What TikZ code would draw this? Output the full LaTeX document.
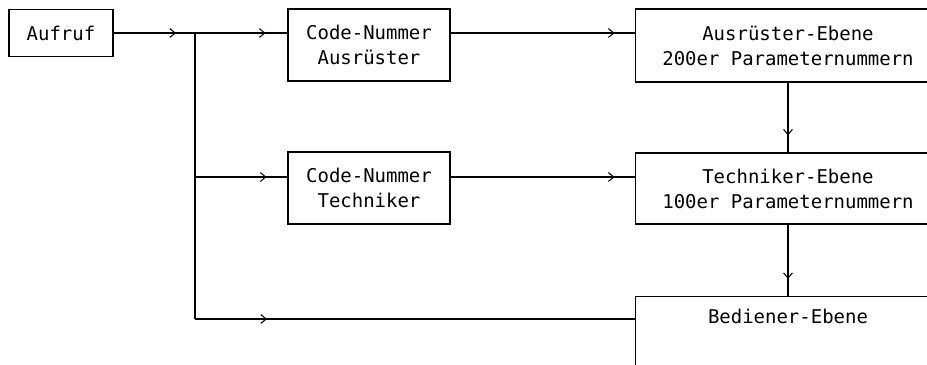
\documentclass[tikz,border=0pt]{standalone}
\usepackage{fontspec}
\setmonofont{DejaVu Sans Mono}
\usetikzlibrary{arrows.meta,decorations.markings}
\begin{document}
\begin{tikzpicture}[x=0.02cm,y=-0.02cm,line width=0.6pt,
  box/.style={draw,inner sep=0pt,align=center,minimum height=1.44cm,
    font=\ttfamily\fontsize{10.8}{14.2}\selectfont},
  midarrow/.style={postaction=decorate,decoration={markings,
    mark=at position #1 with {\arrow{Straight Barb[length=3pt,width=5pt]}}}}]
\useasboundingbox (0,0) rectangle (927,365);
\clip (0,0) rectangle (927,365);
\node[box,minimum width=2.08cm,minimum height=0.94cm] (auf) at (61,33) {Aufruf};
\node[box,minimum width=3.24cm] (cna) at (369,45) {Code-Nummer\\Ausrüster};
\node[box,minimum width=3.24cm] (cnt) at (369,188) {Code-Nummer\\Techniker};
\node[box,minimum width=6.12cm,minimum height=1.46cm] (aeb) at (788,45.5) {Ausrüster-Ebene\\200er Parameternummern};
\node[box,minimum width=6.12cm,minimum height=1.42cm] (teb) at (788,188.5) {Techniker-Ebene\\100er Parameternummern};
\node[box,minimum width=6.12cm,minimum height=1.46cm] (beb) at (788,333) {Bediener-Ebene\\\strut};
\coordinate (j1) at (195,33);
\coordinate (j2) at (195,177);
\coordinate (j3) at (195,319);
\draw[midarrow=-0.38cm] (auf.east) -- (j1);
\draw[midarrow=-0.44cm] (j1) -- (cna.west |- j1);
\draw[midarrow=-0.4cm] (cna.east |- j1) -- (aeb.west |- j1);
\draw (j1) -- (j3);
\draw[midarrow=-0.42cm] (j2) -- (cnt.west |- j2);
\draw[midarrow=-0.4cm] (cnt.east |- j2) -- (teb.west |- j2);
\draw[midarrow=1.44cm] (j3) -- (beb.west |- j3);
\draw[midarrow=-0.34cm] (aeb.south) -- (teb.north);
\draw[midarrow=-0.34cm] (teb.south) -- (beb.north);
\end{tikzpicture}
\end{document}
